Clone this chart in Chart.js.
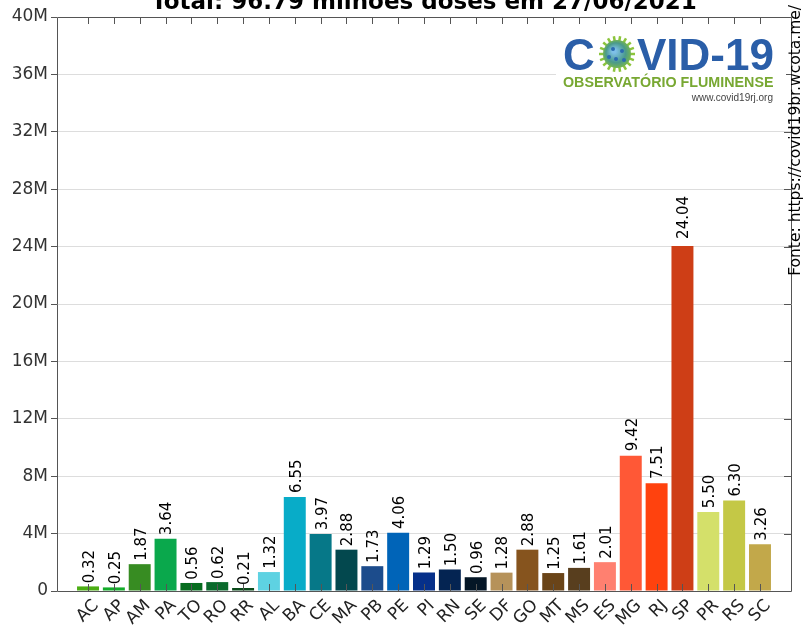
<!DOCTYPE html>
<html>
<head>
<meta charset="utf-8">
<script src="https://cdn.jsdelivr.net/npm/chart.js@4.4.0/dist/chart.umd.min.js"></script>
<style>
  html, body { margin: 0; padding: 0; background: #fff; }
  #wrap { width: 804px; height: 628px; }
</style>
</head>
<body>
<div id="wrap"><canvas id="dosesChart" width="804" height="628"></canvas></div>
<script>
// Doses aplicadas por estado (milhões)
const states = ['AC', 'AP', 'AM', 'PA', 'TO', 'RO', 'RR', 'AL', 'BA', 'CE', 'MA', 'PB', 'PE', 'PI',
    'RN', 'SE', 'DF', 'GO', 'MT', 'MS', 'ES', 'MG', 'RJ', 'SP', 'PR', 'RS', 'SC'];
const doses = [0.32, 0.25, 1.87, 3.64, 0.56, 0.62, 0.21, 1.32, 6.55, 3.97, 2.88, 1.73, 4.06, 1.29,
    1.50, 0.96, 1.28, 2.88, 1.25, 1.61, 2.01, 9.42, 7.51, 24.04, 5.50, 6.30, 3.26];
const barColors = ['#4cae14', '#13ac2a', '#378c22', '#0aa84c', '#066c1e', '#0a6a2c', '#0a4a1a',
    '#5ed2e2', '#08acc8', '#067888', '#03484e', '#1c4c8c', '#0064b8', '#06308a',
    '#042452', '#041626', '#b6925a', '#86541e', '#6a4418', '#583e1e',
    '#ff8070', '#ff5836', '#ff420e', '#ce3e16', '#d4e06a', '#c4c846', '#c2a84a'];
const yTicks = [0, 4, 8, 12, 16, 20, 24, 28, 32, 36, 40];
const titleText = 'Total: 96.79 milhões doses em 27/06/2021';
const sourceText = 'Fonte: https://covid19br.wcota.me/';

const FONT = 'DejaVu Sans';
const AXIS = '#555';

// values labels above bars, rotated
const barLabels = {
    id: 'barLabels',
    afterDatasetsDraw(chart) {
        const ctx = chart.ctx;
        const y = chart.scales.y;
        const meta = chart.getDatasetMeta(0);
        ctx.save();
        ctx.font = '15px "' + FONT + '"';
        ctx.fillStyle = '#000';
        ctx.textAlign = 'left';
        ctx.textBaseline = 'middle';
        meta.data.forEach(function(bar, i) {
            const top = y.getPixelForValue(doses[i] * 1.012e6) - 3;
            ctx.save();
            ctx.translate(bar.x + 2, top);
            ctx.rotate(-Math.PI / 2);
            ctx.fillText(doses[i].toFixed(2), 0, 0);
            ctx.restore();
        });
        ctx.restore();
    }
};

// inward ticks on top/bottom/right, x labels, title, source, logo
const frame = {
    id: 'frame',
    afterDatasetsDraw(chart) {
        const ctx = chart.ctx;
        const a = chart.chartArea;
        const x = chart.scales.x;
        const y = chart.scales.y;
        ctx.save();
        ctx.strokeStyle = AXIS;
        ctx.lineWidth = 1;
        ctx.beginPath();
        states.forEach(function(s, i) {
            const px = Math.round(x.getPixelForValue(i)) + 0.5;
            ctx.moveTo(px, a.bottom);
            ctx.lineTo(px, a.bottom - 7);
            ctx.moveTo(px, a.top);
            ctx.lineTo(px, a.top + 7);
        });
        yTicks.forEach(function(t) {
            const py = Math.round(y.getPixelForValue(t * 1e6)) + 0.5;
            ctx.moveTo(a.right, py);
            ctx.lineTo(a.right - 7, py);
        });
        ctx.stroke();
        ctx.beginPath();
        ctx.rect(a.left + 0.5, a.top + 0.5, a.right - a.left, a.bottom - a.top);
        ctx.stroke();

        // category labels
        ctx.font = '17px "' + FONT + '"';
        ctx.fillStyle = '#222';
        ctx.textAlign = 'right';
        ctx.textBaseline = 'middle';
        states.forEach(function(s, i) {
            const px = x.getPixelForValue(i);
            ctx.save();
            ctx.translate(px + 8, a.bottom + 12);
            ctx.rotate(-Math.PI / 4);
            ctx.fillText(s, 0, 0);
            ctx.restore();
        });

        // title (cut by the top edge)
        ctx.font = 'bold 23px "' + FONT + '"';
        ctx.fillStyle = '#000';
        ctx.textAlign = 'center';
        ctx.textBaseline = 'alphabetic';
        ctx.fillText(titleText, (a.left + a.right) / 2, 9);

        // source on the right side
        ctx.save();
        ctx.font = '15.5px "' + FONT + '"';
        ctx.translate(804, 5);
        ctx.rotate(-Math.PI / 2);
        ctx.textAlign = 'right';
        ctx.textBaseline = 'bottom';
        ctx.fillText(sourceText, 0, 0);
        ctx.restore();

        // logo box
        ctx.fillStyle = '#fff';
        ctx.fillRect(556, 30, 230, 76);
        ctx.fillStyle = '#2a5ea8';
        ctx.font = 'bold 44px "Liberation Sans"';
        ctx.textAlign = 'left';
        ctx.textBaseline = 'alphabetic';
        ctx.fillText('C', 563, 70);
        ctx.fillText('VID-19', 637, 70);
        // virus
        const cx = 617, cy = 54;
        ctx.strokeStyle = '#8cc43c';
        ctx.lineWidth = 2.5;
        for (let k = 0; k < 18; k++) {
            const ang = k * Math.PI / 9;
            ctx.beginPath();
            ctx.moveTo(cx + Math.cos(ang) * 13, cy + Math.sin(ang) * 13);
            ctx.lineTo(cx + Math.cos(ang) * 18, cy + Math.sin(ang) * 18);
            ctx.stroke();
        }
        const grad = ctx.createRadialGradient(cx - 3, cy - 3, 2, cx, cy, 15);
        grad.addColorStop(0, '#7ec0e8');
        grad.addColorStop(0.6, '#4a9a8a');
        grad.addColorStop(1, '#7ab84a');
        ctx.fillStyle = grad;
        ctx.beginPath();
        ctx.arc(cx, cy, 14, 0, Math.PI * 2);
        ctx.fill();
        ctx.fillStyle = '#2a6ab0';
        [[-4, -5], [5, -3], [-1, 5], [7, 6], [-8, 3]].forEach(function(p) {
            ctx.beginPath();
            ctx.arc(cx + p[0], cy + p[1], 2, 0, Math.PI * 2);
            ctx.fill();
        });

        ctx.fillStyle = '#78a832';
        ctx.font = 'bold 16px "Liberation Sans"';
        const w = ctx.measureText('OBSERVATÓRIO FLUMINENSE').width;
        const fs = 16 * 210 / w;
        ctx.font = 'bold ' + fs.toFixed(1) + 'px "Liberation Sans"';
        ctx.fillText('OBSERVATÓRIO FLUMINENSE', 563, 87);
        ctx.fillStyle = '#444';
        ctx.font = '10px "Liberation Sans"';
        ctx.textAlign = 'right';
        ctx.fillText('www.covid19rj.org', 773, 101);
        ctx.restore();
    }
};

new Chart(document.getElementById('dosesChart'), {
    type: 'bar',
    data: {
        datasets: [{
            data: doses.map(function(v, i) { return { x: i, y: v * 1e6 }; }),
            backgroundColor: barColors,
            borderWidth: 0,
            barPercentage: 0.85,
            categoryPercentage: 1
        }]
    },
    options: {
        responsive: false,
        animation: false,
        layout: { padding: { top: 17, right: 13, left: 0, bottom: 0 } },
        plugins: {
            legend: { display: false },
            tooltip: { enabled: false }
        },
        scales: {
            x: {
                type: 'linear',
                offset: false,
                min: -1.2,
                max: 27.2,
                afterBuildTicks: function(scale) {
                    scale.ticks = states.map(function(s, i) { return { value: i }; });
                },
                afterFit: function(scale) { scale.height = 37; },
                grid: { display: false },
                border: { display: false },
                ticks: { display: false }
            },
            y: {
                min: 0,
                max: 40e6,
                afterBuildTicks: function(scale) {
                    scale.ticks = yTicks.map(function(t) { return { value: t * 1e6 }; });
                },
                afterFit: function(scale) { scale.width = 57; },
                border: { display: false },
                grid: {
                    color: '#dddddd',
                    tickColor: AXIS,
                    tickLength: 6
                },
                ticks: {
                    color: '#333',
                    padding: 3,
                    font: { family: FONT, size: 17 },
                    callback: function(v) { return v === 0 ? '0' : (v / 1e6) + 'M'; }
                }
            }
        }
    },
    plugins: [barLabels, frame]
});
</script>
</body>
</html>
